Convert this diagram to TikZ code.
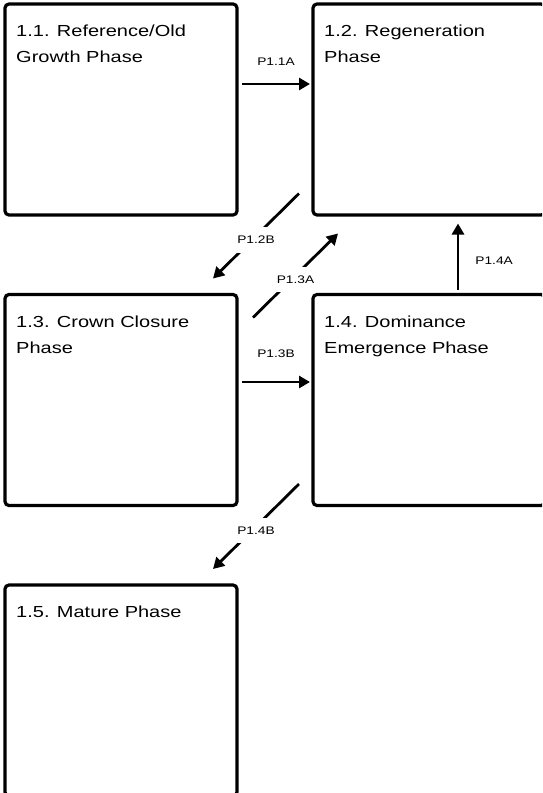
\documentclass[tikz,border=0pt]{standalone}
\usepackage{fontspec}
\setmainfont[FakeStretch=1.25]{Liberation Sans}
\usetikzlibrary{calc,arrows.meta,positioning}

\begin{document}
\begin{tikzpicture}[x=1pt, y=-1pt]

\tikzset{
phase/.style={draw=black, line width=3.2pt, rounded corners=4pt, minimum width=232pt, minimum height=211pt, inner sep=0pt, outer sep=0pt},
phasetxt/.style={anchor=base west, align=left, inner sep=0pt, font=\fontsize{16}{26}\selectfont},
trans/.style={-{Triangle[length=11pt,width=12pt]}, line width=2.8pt},
translab/.style={font=\fontsize{11}{13}\selectfont, inner sep=1pt},
difflab/.style={translab, fill=white, inner xsep=1pt, inner ysep=9pt, yshift=-4pt}
}

\useasboundingbox (0,0) rectangle (542,793);
\clip (0,0) rectangle (542,793);

% Nodes
\node[phase] (b11) at (121,109.5) {};
\node[phase] (b12) at (429,109.5) {};
\node[phase] (b13) at (121,400) {};
\node[phase] (b14) at (429,400) {};
\node[phase] (b15) at (121,690.5) {};

% Phase names (base = last line)
\node[phasetxt] (t11) at ([xshift=11pt,yshift=-58.5pt]b11.north west) {1.1. Reference/Old\\Growth Phase};
\node[phasetxt] (t12) at ([xshift=11pt,yshift=-58.5pt]b12.north west) {1.2. Regeneration\\Phase};
\node[phasetxt] (t13) at ([xshift=11pt,yshift=-58.5pt]b13.north west) {1.3. Crown Closure\\Phase};
\node[phasetxt] (t14) at ([xshift=11pt,yshift=-58.5pt]b14.north west) {1.4. Dominance\\Emergence Phase};
\node[phasetxt] (t15) at ([xshift=11pt,yshift=-32.5pt]b15.north west) {1.5. Mature Phase};

% Arrows
\draw[trans] ([xshift=5pt,yshift=25.5pt]b11.east) -- node[translab, above=16pt] (l11a) {P1.1A} ([xshift=-3pt,yshift=25.5pt]b12.west);
\draw[trans] ([xshift=5pt,yshift=18pt]b13.east) -- node[translab, above=22pt] (l13b) {P1.3B} ([xshift=-3pt,yshift=18pt]b14.west);
\draw[trans] ([xshift=29pt,yshift=5pt]b14.north) -- node[translab, right=15pt, yshift=-4pt] (l14a) {P1.4A} ([xshift=29pt,yshift=-8.5pt]b12.south);

\draw[trans] ([xshift=-14pt,yshift=21.5pt]b12.south west) -- node[difflab] (l12b) {P1.2B} ([xshift=-24pt,yshift=16pt]b13.north east);
\draw[trans] ([xshift=16pt,yshift=-23pt]b13.north east) -- node[difflab] (l13a) {P1.3A} ([xshift=25pt,yshift=-18.5pt]b12.south west);
\draw[trans] ([xshift=-14pt,yshift=21.5pt]b14.south west) -- node[difflab] (l14b) {P1.4B} ([xshift=-24pt,yshift=16pt]b15.north east);

\end{tikzpicture}
\end{document}
